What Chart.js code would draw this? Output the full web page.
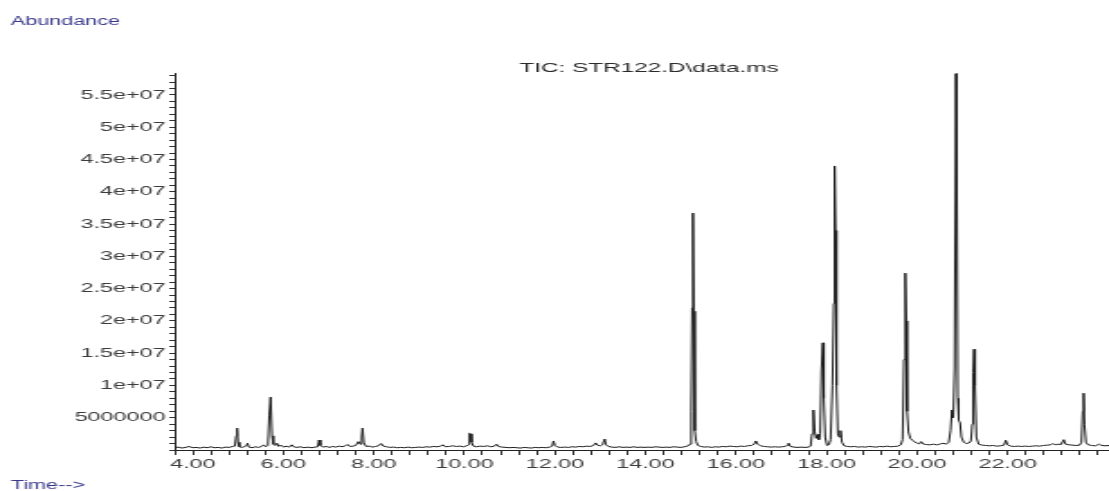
<!DOCTYPE html>
<html>
<head>
<meta charset="utf-8">
<title>TIC: STR122.D\data.ms</title>
<script src="https://cdn.jsdelivr.net/npm/chart.js@4.4.1/dist/chart.umd.min.js"></script>
<style>
  html, body { margin: 0; padding: 0; background: #fff; overflow: hidden; }
  /* the plot is drawn on a narrow canvas and widened to the page, giving the wide instrument-printout lettering */
  #wrap { width: 616px; height: 491px; transform: scaleX(1.8003); transform-origin: 0 0; }
</style>
</head>
<body>
<div id="wrap"><canvas id="tic" width="616" height="491"></canvas></div>
<script>
// Total ion chromatogram: retention time (min) and abundance (millions of counts)
const timeMin = [
  3.60, 3.68, 3.76, 3.84, 3.92, 4.00, 4.08, 4.16, 4.24, 4.32,
  4.40, 4.48, 4.56, 4.64, 4.72, 4.80, 4.88, 4.93, 4.96, 4.98,
  5.00, 5.03, 5.09, 5.15, 5.19, 5.21, 5.24, 5.31, 5.38, 5.45,
  5.52, 5.57, 5.61, 5.66, 5.69, 5.72, 5.75, 5.78, 5.82, 5.86,
  5.90, 5.95, 6.01, 6.07, 6.13, 6.19, 6.23, 6.30, 6.38, 6.46,
  6.54, 6.62, 6.70, 6.76, 6.79, 6.82, 6.88, 6.95, 7.02, 7.09,
  7.16, 7.23, 7.30, 7.37, 7.42, 7.47, 7.54, 7.60, 7.66, 7.70,
  7.73, 7.75, 7.78, 7.83, 7.90, 7.97, 8.04, 8.10, 8.16, 8.21,
  8.28, 8.36, 8.44, 8.52, 8.60, 8.68, 8.76, 8.84, 8.92, 9.00,
  9.08, 9.16, 9.24, 9.32, 9.40, 9.47, 9.53, 9.58, 9.66, 9.74,
  9.82, 9.90, 9.98, 10.05, 10.09, 10.11, 10.14, 10.16, 10.20, 10.27,
  10.35, 10.43, 10.51, 10.59, 10.66, 10.71, 10.75, 10.83, 10.92, 11.00,
  11.08, 11.16, 11.24, 11.32, 11.40, 11.48, 11.56, 11.64, 11.72, 11.80,
  11.88, 11.94, 11.97, 12.00, 12.06, 12.14, 12.22, 12.30, 12.38, 12.46,
  12.54, 12.62, 12.70, 12.78, 12.85, 12.90, 12.94, 13.00, 13.05, 13.10,
  13.13, 13.18, 13.26, 13.34, 13.42, 13.50, 13.58, 13.66, 13.74, 13.82,
  13.90, 13.98, 14.06, 14.14, 14.22, 14.30, 14.38, 14.46, 14.54, 14.62,
  14.70, 14.78, 14.86, 14.93, 14.98, 15.01, 15.03, 15.05, 15.07, 15.09,
  15.12, 15.16, 15.22, 15.30, 15.38, 15.46, 15.54, 15.62, 15.70, 15.78,
  15.86, 15.94, 16.02, 16.10, 16.18, 16.26, 16.34, 16.40, 16.44, 16.48,
  16.54, 16.62, 16.70, 16.78, 16.86, 16.94, 17.02, 17.09, 17.13, 17.16,
  17.20, 17.28, 17.36, 17.44, 17.52, 17.60, 17.65, 17.68, 17.71, 17.74,
  17.77, 17.80, 17.83, 17.86, 17.89, 17.92, 17.94, 17.97, 18.01, 18.05,
  18.09, 18.13, 18.16, 18.18, 18.20, 18.22, 18.25, 18.28, 18.31, 18.34,
  18.39, 18.46, 18.54, 18.62, 18.70, 18.78, 18.86, 18.94, 19.02, 19.10,
  19.18, 19.26, 19.34, 19.42, 19.50, 19.58, 19.64, 19.68, 19.71, 19.74,
  19.76, 19.78, 19.81, 19.85, 19.90, 19.95, 20.00, 20.05, 20.09, 20.13,
  20.20, 20.28, 20.36, 20.44, 20.52, 20.58, 20.64, 20.70, 20.74, 20.77,
  20.80, 20.83, 20.86, 20.88, 20.90, 20.92, 20.95, 20.98, 21.03, 21.09,
  21.15, 21.19, 21.22, 21.24, 21.26, 21.28, 21.31, 21.36, 21.44, 21.52,
  21.60, 21.68, 21.76, 21.84, 21.92, 21.96, 22.00, 22.07, 22.15, 22.23,
  22.31, 22.39, 22.47, 22.55, 22.63, 22.71, 22.79, 22.87, 22.95, 23.00,
  23.05, 23.12, 23.18, 23.24, 23.28, 23.36, 23.44, 23.52, 23.59, 23.63,
  23.66, 23.68, 23.70, 23.73, 23.78, 23.86, 23.94, 24.02, 24.08, 24.16,
  24.24
];
const abundanceM = [
  0.35, 0.45, 0.30, 0.40, 0.55, 0.35, 0.40, 0.30, 0.45, 0.35,
  0.50, 0.35, 0.40, 0.30, 0.45, 0.40, 0.55, 0.60, 2.20, 3.40,
  1.20, 0.50, 0.40, 0.55, 0.70, 1.05, 0.45, 0.35, 0.50, 0.40,
  0.55, 0.80, 0.50, 0.70, 5.40, 8.20, 2.20, 0.90, 0.70, 1.05,
  0.55, 0.75, 0.45, 0.60, 0.45, 0.80, 0.50, 0.40, 0.50, 0.35,
  0.45, 0.35, 0.45, 0.50, 1.55, 0.70, 0.45, 0.55, 0.40, 0.55,
  0.45, 0.60, 0.50, 0.65, 0.85, 0.55, 0.60, 0.70, 1.30, 0.90,
  2.00, 3.40, 1.10, 0.55, 0.60, 0.45, 0.55, 0.65, 1.00, 0.60,
  0.50, 0.40, 0.45, 0.35, 0.40, 0.35, 0.45, 0.35, 0.40, 0.45,
  0.40, 0.50, 0.45, 0.55, 0.50, 0.60, 0.80, 0.50, 0.55, 0.65,
  0.55, 0.60, 0.50, 0.65, 0.80, 2.60, 2.50, 1.20, 0.60, 0.50,
  0.60, 0.55, 0.65, 0.50, 0.60, 0.90, 0.55, 0.45, 0.40, 0.35,
  0.40, 0.35, 0.30, 0.40, 0.35, 0.30, 0.40, 0.35, 0.40, 0.35,
  0.45, 0.60, 1.40, 0.70, 0.45, 0.40, 0.45, 0.40, 0.50, 0.45,
  0.55, 0.50, 0.60, 0.55, 0.70, 1.10, 0.75, 0.65, 0.80, 1.70,
  0.80, 0.55, 0.45, 0.40, 0.50, 0.40, 0.45, 0.40, 0.50, 0.40,
  0.45, 0.40, 0.45, 0.40, 0.50, 0.45, 0.40, 0.45, 0.40, 0.50,
  0.45, 0.40, 0.50, 0.60, 0.90, 6.00, 22.0, 36.7, 21.5, 3.00,
  1.30, 0.70, 0.55, 0.45, 0.50, 0.40, 0.50, 0.45, 0.55, 0.50,
  0.60, 0.55, 0.50, 0.60, 0.55, 0.65, 0.70, 0.90, 1.40, 0.90,
  0.65, 0.55, 0.50, 0.45, 0.50, 0.45, 0.50, 0.55, 0.75, 1.05,
  0.55, 0.45, 0.40, 0.45, 0.40, 0.45, 0.60, 2.50, 6.20, 2.80,
  1.80, 2.40, 1.60, 2.60, 12.4, 16.6, 8.00, 2.00, 0.70, 0.80,
  1.60, 10.0, 22.7, 44.0, 34.0, 10.0, 2.50, 2.00, 3.00, 1.20,
  0.65, 0.55, 0.50, 0.55, 0.45, 0.50, 0.45, 0.55, 0.50, 0.45,
  0.55, 0.50, 0.60, 0.50, 0.55, 0.60, 0.80, 1.60, 14.0, 27.4,
  20.0, 6.00, 2.80, 1.80, 1.50, 1.25, 1.05, 0.95, 1.30, 0.95,
  0.85, 0.80, 0.90, 0.80, 0.95, 1.05, 0.90, 1.20, 3.00, 6.20,
  5.00, 12.7, 58.3, 40.0, 8.00, 4.60, 4.20, 2.00, 1.20, 1.00,
  1.10, 1.40, 4.00, 12.0, 15.6, 10.0, 2.00, 0.90, 0.75, 0.70,
  0.65, 0.70, 0.60, 0.65, 0.75, 1.50, 0.80, 0.60, 0.55, 0.60,
  0.55, 0.60, 0.55, 0.60, 0.65, 0.60, 0.70, 0.75, 0.80, 1.00,
  0.80, 0.90, 0.85, 1.60, 0.90, 0.80, 0.75, 0.70, 0.75, 1.20,
  6.00, 8.80, 4.00, 1.20, 0.80, 0.70, 0.65, 0.90, 0.70, 0.65,
  0.70
];

// Axis tick labels
const xTickValues = [4, 6, 8, 10, 12, 14, 16, 18, 20, 22];
const xTickLabels = ['4.00', '6.00', '8.00', '10.00', '12.00', '14.00', '16.00', '18.00', '20.00', '22.00'];
const yTickValues = [5e6, 10e6, 15e6, 20e6, 25e6, 30e6, 35e6, 40e6, 45e6, 50e6, 55e6];
const yTickLabels = ['5000000', '1e+07', '1.5e+07', '2e+07', '2.5e+07', '3e+07', '3.5e+07', '4e+07', '4.5e+07', '5e+07', '5.5e+07'];

const chartTitle = 'TIC: STR122.D\\data.ms';
const yAxisTitle = 'Abundance';
const xAxisTitle = 'Time-->';

const FONT = '"Liberation Sans", Arial, sans-serif';

function labelFor(value, values, labels) {
  const tol = Math.max(1e-6, Math.abs(value) * 1e-6);
  const i = values.findIndex(v => Math.abs(v - value) < tol);
  return i >= 0 ? labels[i] : '';
}

// minor tick positions: every 0.4 min along time, every 1e6 counts along abundance
function stepTicks(min, max, step) {
  const out = [];
  const n = Math.floor((max - min) / step + 1e-9);
  for (let k = 0; k <= n; k++) out.push({ value: +(min + k * step).toFixed(6) });
  return out;
}

const captions = {
  id: 'captions',
  afterDraw(chart) {
    const { ctx, chartArea } = chart;
    ctx.save();
    ctx.textBaseline = 'alphabetic';
    ctx.font = '12px ' + FONT;
    ctx.fillStyle = '#3a3a8c';
    ctx.textAlign = 'left';
    ctx.fillText(yAxisTitle, 6, 25);
    ctx.fillText(xAxisTitle, 6, 489);
    ctx.font = '13.5px ' + FONT;
    ctx.fillStyle = '#2a2a2a';
    ctx.textAlign = 'center';
    ctx.fillText(chartTitle, (chartArea.left + chartArea.right) / 2 + 4, 72);
    ctx.restore();
  }
};

const points = timeMin.map((t, i) => ({ x: t, y: abundanceM[i] * 1e6 }));

new Chart(document.getElementById('tic'), {
  type: 'line',
  data: {
    datasets: [{
      data: points,
      borderColor: '#1a1a1a',
      borderWidth: 1,
      pointRadius: 0,
      tension: 0,
      fill: false
    }]
  },
  options: {
    responsive: false,
    animation: false,
    devicePixelRatio: 1,
    layout: { padding: { top: 73, right: 0, bottom: 0, left: 0 } },
    plugins: { legend: { display: false }, tooltip: { enabled: false }, title: { display: false } },
    scales: {
      x: {
        type: 'linear',
        min: 3.6,
        max: 24.24,
        afterFit(s) { s.height = 41; },
        afterBuildTicks(s) { s.ticks = stepTicks(3.6, 24.24, 0.4); },
        border: { display: true, color: '#222', width: 1 },
        grid: { drawOnChartArea: false, drawTicks: true, tickLength: 5, tickColor: '#333' },
        ticks: {
          autoSkip: false, maxRotation: 0, minRotation: 0, padding: 2,
          color: '#3c3c3c', font: { family: FONT, size: 13 },
          callback: v => labelFor(v, xTickValues, xTickLabels)
        }
      },
      y: {
        type: 'linear',
        min: 0,
        max: 58.4e6,
        afterFit(s) { s.width = 97; },
        afterBuildTicks(s) { s.ticks = stepTicks(0, 58.4e6, 1e6); },
        border: { display: true, color: '#222', width: 1 },
        grid: { drawOnChartArea: false, drawTicks: true, tickLength: 3, tickColor: '#333' },
        ticks: {
          autoSkip: false, padding: 2,
          color: '#3c3c3c', font: { family: FONT, size: 13 },
          callback: v => labelFor(v, yTickValues, yTickLabels)
        }
      }
    }
  },
  plugins: [captions]
});
</script>
</body>
</html>
